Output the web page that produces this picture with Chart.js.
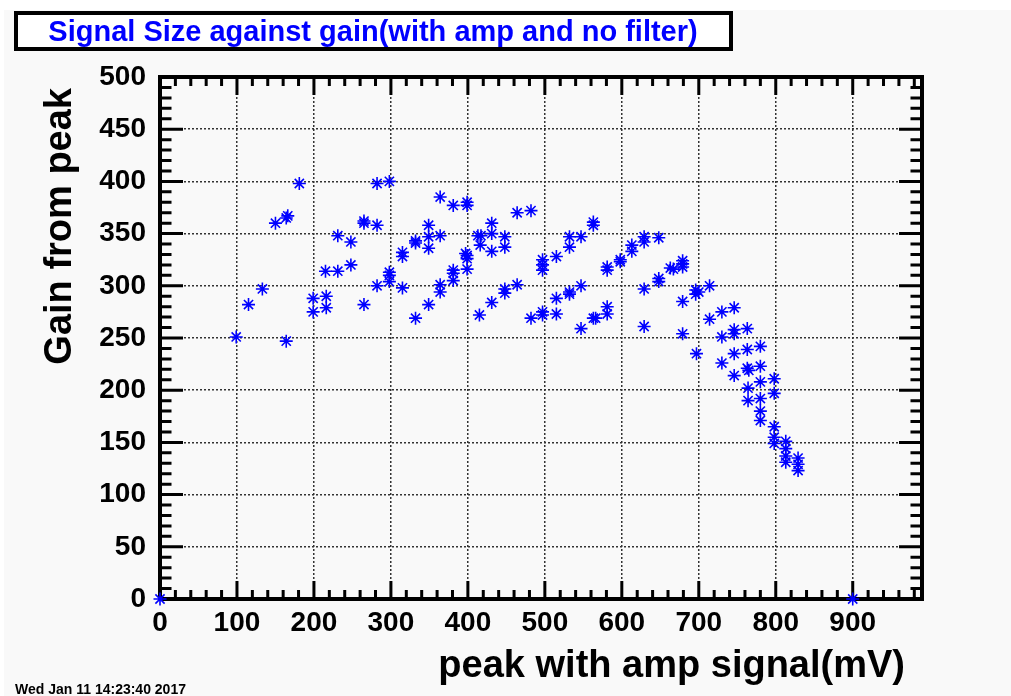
<!DOCTYPE html>
<html>
<head>
<meta charset="utf-8">
<script src="https://cdn.jsdelivr.net/npm/chart.js@4/dist/chart.umd.min.js"></script>
<style>
html,body{margin:0;padding:0;background:#ffffff;}
canvas{display:block;}
</style>
</head>
<body>
<canvas id="c" width="1011" height="696"></canvas>
<script>
// ---- data ----
const chartTitle = "Signal Size against gain(with amp and no filter)";
const xTitle = "peak with amp signal(mV)";
const yTitle = "Gain from peak";
const stampText = "Wed Jan 11 14:23:40 2017";

const peakMv = [
  0, 900,
  99, 115, 133, 150, 164, 166, 164, 181,
  199, 199, 216, 216, 215, 231, 231, 248, 248,
  265, 265, 265, 282, 282, 282, 298, 298, 298, 298,
  315, 315, 315,
  364, 381, 399, 399, 464, 482, 563, 563,
  349, 349, 364, 332, 332, 349,
  413, 417, 416, 431, 431, 431, 448, 448,
  399, 399, 397, 399, 381, 381, 381, 364, 364,
  349, 332, 415, 431, 448, 448, 464,
  497, 497, 497, 515, 532, 532, 547,
  482, 497, 497, 515, 515, 532, 532, 547, 547,
  563, 566, 581, 581, 581, 581, 598, 598,
  613, 613, 629, 629, 629, 629,
  648, 663, 667, 679, 679, 679, 648, 648, 679,
  696, 696, 700, 714, 679, 697, 714,
  730, 730, 746, 746, 746, 746, 763, 763, 763,
  780, 780, 730, 746,
  765, 780, 764, 764, 780, 780, 780,
  798, 798, 798, 798, 798,
  813, 813, 813, 813,
  829, 829, 829
];
const gainFromPeak = [
  0, 0,
  251, 282, 297, 360, 365, 367, 247, 398,
  288, 275, 290, 279, 314, 314, 348, 342, 320,
  362, 360, 282, 398, 358, 300, 400, 313, 310, 304,
  332, 328, 298,
  385, 377, 380, 377, 370, 372, 361, 358,
  358, 347, 348, 343, 341, 336,
  348, 348, 339, 360, 350, 333, 347, 337,
  329, 326, 331, 316, 315, 312, 305, 301, 294,
  282, 269, 272, 284, 297, 293, 301,
  325, 320, 315, 328, 347, 337, 347,
  269, 275, 272, 288, 273, 294, 292, 300, 259,
  269, 269, 280, 273, 318, 315, 325, 323,
  339, 333, 347, 342, 297, 261,
  346, 317, 316, 324, 318, 321, 307, 304, 285,
  296, 292, 294, 300, 254, 235, 268,
  275, 251, 279, 258, 254, 235, 259, 239, 221,
  242, 223, 226, 214,
  219, 208, 202, 190, 192, 180, 171,
  211, 197, 165, 155, 149,
  151, 144, 137, 131,
  135, 129, 123
];
const xTickValues = [0, 100, 200, 300, 400, 500, 600, 700, 800, 900];
const xRange = [0, 990];
const yRange = [0, 500];
const yStep = 50;

// ---- build ----
const points = peakMv.map((x, i) => ({x: x, y: gainFromPeak[i]}));
const FONT = "'Liberation Sans', Arial, Helvetica, sans-serif";

const backgroundPlugin = {
  id: 'bg',
  beforeDraw(chart) {
    const ctx = chart.ctx;
    ctx.save();
    ctx.fillStyle = '#ffffff';
    ctx.fillRect(0, 0, chart.width, chart.height);
    ctx.fillStyle = '#f9f9f9';
    ctx.fillRect(4, 10, chart.width - 4, chart.height - 10);
    ctx.restore();
  }
};

const framePlugin = {
  id: 'frame',
  beforeDatasetsDraw(chart) {
    const ctx = chart.ctx;
    const a = chart.chartArea;
    const xs = chart.scales.x, ys = chart.scales.y;
    ctx.save();
    ctx.strokeStyle = '#000';
    ctx.lineCap = 'butt';
    ctx.lineWidth = 3;
    ctx.beginPath();
    for (let v = yRange[0]; v <= yRange[1]; v += 10) {
      const py = ys.getPixelForValue(v);
      const len = (v % 50 === 0) ? 23 : 11.5;
      ctx.moveTo(a.left, py); ctx.lineTo(a.left + len, py);
      ctx.moveTo(a.right, py); ctx.lineTo(a.right - len, py);
    }
    for (let v = xRange[0]; v <= xRange[1]; v += 20) {
      const px = xs.getPixelForValue(v);
      const len = (v % 100 === 0) ? 18 : 9;
      ctx.moveTo(px, a.bottom); ctx.lineTo(px, a.bottom - len);
      ctx.moveTo(px, a.top); ctx.lineTo(px, a.top + len);
    }
    ctx.stroke();
    ctx.lineWidth = 4;
    ctx.strokeRect(a.left, a.top, a.right - a.left, a.bottom - a.top);
    ctx.restore();
  },
  afterDraw(chart) {
    const ctx = chart.ctx;
    ctx.save();
    // title box
    ctx.fillStyle = '#ffffff';
    ctx.fillRect(16, 13, 715, 36);
    ctx.lineWidth = 4;
    ctx.strokeStyle = '#000';
    ctx.strokeRect(16, 13, 715, 36);
    ctx.fillStyle = '#0000ff';
    ctx.font = 'bold 29px ' + FONT;
    ctx.textAlign = 'center';
    ctx.textBaseline = 'alphabetic';
    ctx.fillText(chartTitle, 373, 41);
    // x title
    ctx.fillStyle = '#000';
    ctx.font = 'bold 38px ' + FONT;
    ctx.textAlign = 'right';
    ctx.fillText(xTitle, 905, 677);
    // y title
    ctx.translate(71, 88);
    ctx.rotate(-Math.PI / 2);
    ctx.textAlign = 'right';
    ctx.fillText(yTitle, 0, 0);
    ctx.setTransform(1, 0, 0, 1, 0, 0);
    // date stamp
    ctx.font = 'bold 14px ' + FONT;
    ctx.textAlign = 'left';
    ctx.fillText(stampText, 15, 694);
    ctx.restore();
  }
};

const tickFont = {family: FONT, size: 28, weight: 'bold'};

new Chart(document.getElementById('c'), {
  type: 'scatter',
  data: {
    datasets: [{
      data: points,
      pointStyle: 'star',
      pointRadius: 6.5,
      pointHoverRadius: 6.5,
      borderColor: '#0000ff',
      backgroundColor: '#0000ff',
      pointBorderWidth: 1.6,
      clip: false
    }]
  },
  options: {
    responsive: false,
    animation: false,
    devicePixelRatio: 1,
    events: [],
    layout: {padding: {left: 0, right: 89, top: 77, bottom: 0}},
    plugins: {legend: {display: false}, title: {display: false}, tooltip: {enabled: false}},
    scales: {
      x: {
        type: 'linear',
        min: xRange[0], max: xRange[1],
        afterBuildTicks: s => { s.ticks = xTickValues.map(v => ({value: v})); },
        afterFit: s => { s.height = 696 - 599; },
        grid: {color: '#333', lineWidth: 1.5, drawTicks: false},
        border: {display: false, dash: [2, 2]},
        ticks: {font: tickFont, color: '#000', padding: 7, maxRotation: 0, autoSkip: false}
      },
      y: {
        type: 'linear',
        min: yRange[0], max: yRange[1],
        afterFit: s => { s.width = 160; },
        grid: {color: '#333', lineWidth: 1.5, drawTicks: false},
        border: {display: false, dash: [2, 2]},
        ticks: {font: tickFont, color: '#000', padding: 14, stepSize: yStep, autoSkip: false}
      }
    }
  },
  plugins: [backgroundPlugin, framePlugin]
});
</script>
</body>
</html>
